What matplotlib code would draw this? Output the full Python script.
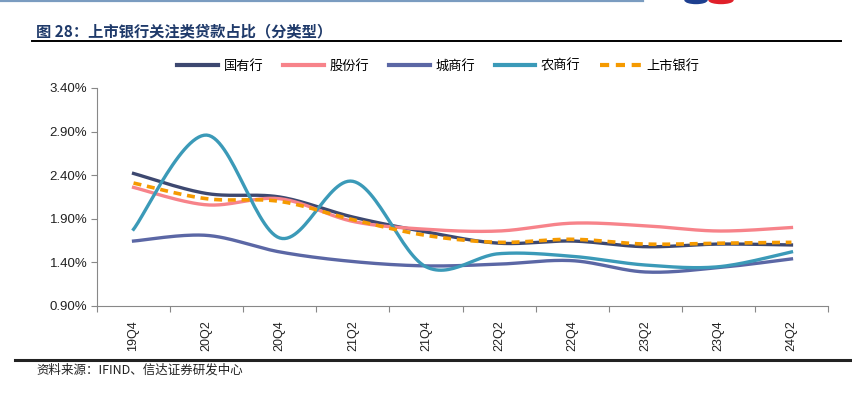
import numpy as np
import matplotlib
matplotlib.use("Agg")
import matplotlib.pyplot as plt
from matplotlib.lines import Line2D
from matplotlib.patches import Ellipse

plt.rcParams['font.family'] = ['Liberation Sans', 'Noto Sans CJK SC', 'DejaVu Sans']

categories = ["19Q4", "20Q2", "20Q4", "21Q2", "21Q4", "22Q2", "22Q4", "23Q2", "23Q4", "24Q2"]
guoyou = [2.42, 2.19, 2.15, 1.92, 1.75, 1.62, 1.645, 1.58, 1.61, 1.60]
gufen = [2.26, 2.06, 2.13, 1.87, 1.78, 1.76, 1.85, 1.82, 1.76, 1.80]
chengshang = [1.645, 1.71, 1.52, 1.41, 1.36, 1.38, 1.42, 1.29, 1.34, 1.44]
nongshang = [1.78, 2.86, 1.68, 2.33, 1.35, 1.50, 1.47, 1.37, 1.35, 1.52]
shangshi = [2.31, 2.13, 2.10, 1.89, 1.71, 1.63, 1.665, 1.61, 1.62, 1.63]
series_names = ["国有行", "股份行", "城商行", "农商行", "上市银行"]
yticks = [0.90, 1.40, 1.90, 2.40, 2.90, 3.40]

colors = ["#3d4870", "#f7838a", "#5b67a5", "#3b9ab8", "#f59a00"]
styles = ["-", "-", "-", "-", "--"]


def smooth(y, n=30):
    y = np.asarray(y, float)
    x = np.arange(len(y), dtype=float)
    P = np.column_stack([x, y])
    Pp = np.vstack([P[0], P, P[-1]])
    out = []
    t = np.linspace(0, 1, n)[:, None]
    for i in range(len(P) - 1):
        p0, p1, p2, p3 = Pp[i], Pp[i + 1], Pp[i + 2], Pp[i + 3]
        c1 = p1 + (p2 - p0) / 6
        c2 = p2 - (p3 - p1) / 6
        seg = ((1 - t) ** 3) * p1 + 3 * ((1 - t) ** 2) * t * c1 + 3 * (1 - t) * t ** 2 * c2 + t ** 3 * p2
        out.append(seg if i == 0 else seg[1:])
    out = np.vstack(out)
    return out[:, 0], out[:, 1]


W, H = 853, 396
fig = plt.figure(figsize=(W / 100, H / 100), dpi=100)
ax = fig.add_axes([97 / W, 1 - 306 / H, (828 - 97) / W, (306 - 88) / H])

data = [guoyou, gufen, chengshang, nongshang, shangshi]
for vals, name, c, ls in zip(data, series_names, colors, styles):
    xs, ys = smooth(vals)
    if ls == "--":
        ax.plot(xs, ys, color=c, lw=2.6, ls=(0, (2.2, 1.6)), label=name, zorder=5)
    else:
        ax.plot(xs, ys, color=c, lw=2.4, ls=ls, label=name)

ax.set_xlim(-0.5, len(categories) - 0.5)
ax.set_ylim(0.90, 3.40)
ax.set_yticks(yticks)
ax.set_yticklabels([f"{v:.2f}%" for v in yticks], fontsize=9.5, color="#222222")
ax.tick_params(axis='y', length=4, width=0.8, color="#888888", pad=3)

ax.set_xticks(np.arange(-0.5, len(categories), 1))
ax.set_xticklabels([])
ax.tick_params(axis='x', which='major', length=4, width=0.8, color="#888888", direction='out')
ax.set_xticks(np.arange(len(categories)), minor=True)
ax.set_xticklabels(categories, minor=True, rotation=90, fontsize=9, color="#222222")
ax.tick_params(axis='x', which='minor', length=0, pad=10)

for s in ["top", "right"]:
    ax.spines[s].set_visible(False)
for s in ["left", "bottom"]:
    ax.spines[s].set_color("#888888")
    ax.spines[s].set_linewidth(0.8)

leg_handles = [Line2D([0], [0], color=c, lw=3, ls=(0, (2.2, 1.6)) if ls == "--" else "-") for c, ls in zip(colors, styles)]
fig.legend(leg_handles, series_names, loc="center", bbox_to_anchor=(0.514, 1 - 66 / H), ncol=5,
           frameon=False, handlelength=3.1, columnspacing=1.5, handletextpad=0.4,
           prop={'family': ['Noto Sans CJK SC', 'DejaVu Sans'], 'size': 9.5})

fig.text(36 / W, 1 - 31 / H, "图 28：上市银行关注类贷款占比（分类型）", fontsize=11, fontweight='bold',
         color="#1f3a6a", va='center', ha='left', family=['Noto Sans CJK SC', 'DejaVu Sans'])
fig.add_artist(Line2D([32 / W, 841 / W], [1 - 41 / H, 1 - 41 / H], color="black", lw=1.4))
fig.add_artist(Line2D([15 / W, 1.0], [1 - 360 / H, 1 - 360 / H], color="#222222", lw=2.2))
fig.add_artist(Line2D([0, 643 / W], [1 - 0.8 / H, 1 - 0.8 / H], color="#7a9cc0", lw=1.6))
fig.add_artist(Ellipse((696 / W, 1 - 0 / H), 22 / W, 7 / H, color="#1d3f8f"))
fig.add_artist(Ellipse((721 / W, 1 - 0 / H), 24 / W, 7 / H, color="#e0202a"))
fig.text(36 / W, 1 - 370 / H, "资料来源：IFIND、信达证券研发中心", fontsize=9, color="#222222",
         va='center', ha='left', style='italic', family=['Noto Sans CJK SC', 'DejaVu Sans'])

fig.savefig("out.png", dpi=100)
